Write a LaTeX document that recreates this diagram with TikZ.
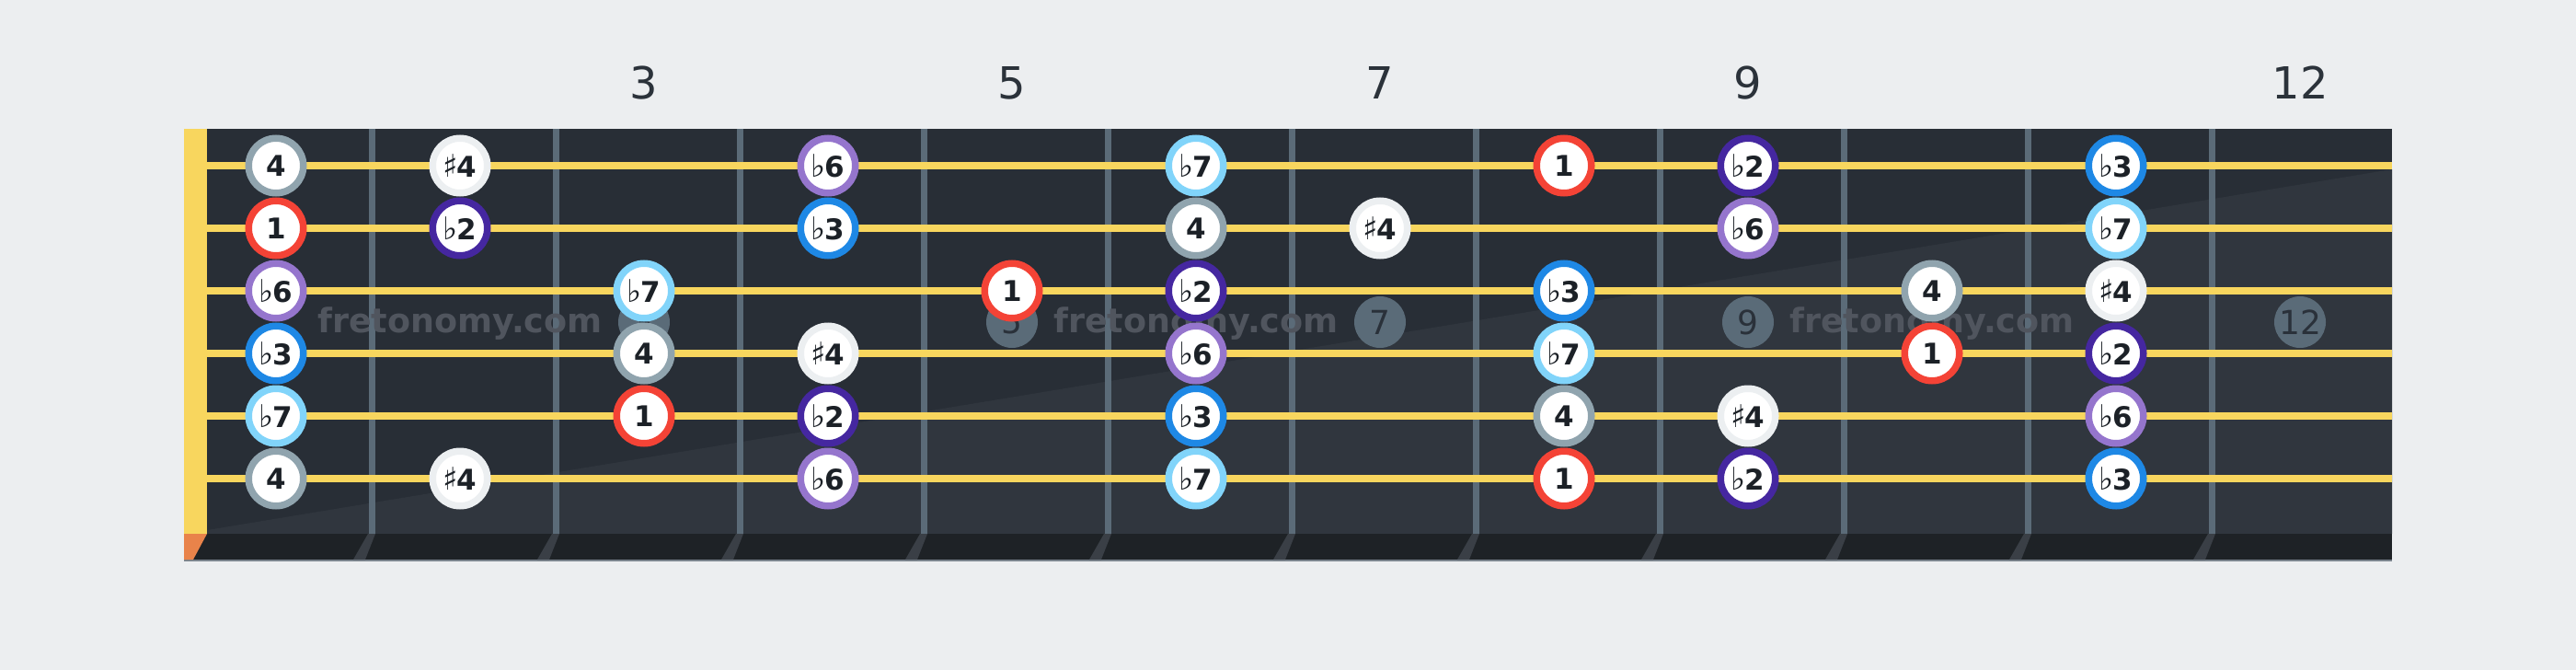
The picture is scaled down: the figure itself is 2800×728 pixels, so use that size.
\documentclass[tikz,border=0pt]{standalone}
\usepackage{fontspec}
\setmainfont{DejaVu Sans}
\definecolor{bgcol}{HTML}{ECEEF0}
\definecolor{boardtop}{HTML}{282E36}
\definecolor{boardlow}{HTML}{30363E}
\definecolor{stripcol}{HTML}{1E2226}
\definecolor{stripedge}{HTML}{7A838C}
\definecolor{cornercol}{HTML}{E9834A}
\definecolor{fretcol}{HTML}{5B6B78}
\definecolor{fretslant}{HTML}{3A3F46}
\definecolor{stringcol}{HTML}{F8D65E}
\definecolor{markerfill}{HTML}{5A6B78}
\definecolor{markertext}{HTML}{2A313A}
\definecolor{notetext}{HTML}{1C2127}
\definecolor{wmcol}{HTML}{50555E}
\definecolor{fretnumcol}{HTML}{2B323A}
\definecolor{cR}{HTML}{F44336}
\definecolor{cBtwo}{HTML}{4527A0}
\definecolor{cBthree}{HTML}{1E88E5}
\definecolor{cFour}{HTML}{90A4AE}
\definecolor{cSfour}{HTML}{ECEFF1}
\definecolor{cBsix}{HTML}{9575CD}
\definecolor{cBseven}{HTML}{81D4FA}
\newcommand{\flatsym}{{\mdseries\fontsize{17pt}{18pt}\selectfont ♭}\kern-0.5pt}
\newcommand{\sharpsym}{{\mdseries\fontsize{17pt}{18pt}\selectfont ♯}\kern-0.5pt}
\begin{document}
\begin{tikzpicture}[x=0.5pt,y=-0.5pt,
  note/.style={circle,fill=white,line width=3.75pt,minimum size=29.75pt,inner sep=0pt,text=notetext,font=\fontsize{15.5pt}{18pt}\selectfont\bfseries},
  nR/.style={note,draw=cR},
  nBtwo/.style={note,draw=cBtwo},
  nBthree/.style={note,draw=cBthree},
  nFour/.style={note,draw=cFour},
  nSfour/.style={note,draw=cSfour},
  nBsix/.style={note,draw=cBsix},
  nBseven/.style={note,draw=cBseven},
  fretmarker/.style={circle,fill=markerfill,minimum size=28pt,inner sep=0pt,text=markertext,font=\fontsize{18pt}{20pt}\selectfont},
  fretnum/.style={text=fretnumcol,font=\fontsize{24pt}{28pt}\selectfont},
  watermark/.style={text=wmcol,font=\fontsize{18.25pt}{20pt}\selectfont\bfseries,anchor=base}
]
\useasboundingbox (0,0) rectangle (2800,728);
\fill[bgcol] (0,0) rectangle (2800,728);
% board
\fill[boardtop] (200,140) rectangle (2600,580);
\fill[boardlow] (225,576) -- (2600,184) -- (2600,580) -- (225,580) -- cycle;
\fill[stripcol] (200,580) rectangle (2600,608);
\draw[stripedge,line width=1pt] (200,608.5) -- (2600,608.5);
\fill[cornercol] (200,580) -- (225,580) -- (210,608) -- (200,608) -- cycle;
% frets
\foreach \k in {0,...,10} {
  \pgfmathsetmacro\fx{404+200*\k}
  \fill[fretcol] (\fx-3.5,140) rectangle (\fx+3.5,580);
  \fill[fretslant] (\fx-4,580) -- (\fx+4,580) -- (\fx-7,608) -- (\fx-20,608) -- cycle;
}
% fret markers
\foreach \f in {3,5,7,9,12}
  \node[fretmarker] (mk\f) at ({300+200*(\f-1)},350) {\f};
% watermark
\foreach \i/\cx in {1/500,2/1300,3/2100}
  \node[watermark] (wm\i) at (\cx,361) {fretonomy.com};
% nut and strings
\fill[stringcol] (200,140) rectangle (225,580);
\foreach \s in {1,...,6}
  \draw[stringcol,line width=4pt] (225,{180+68*(\s-1)}) -- (2600,{180+68*(\s-1)});
% fret numbers
\foreach \f in {3,5,7,9,12}
  \node[fretnum] (fn\f) at ({300+200*(\f-1)},90) {\f};
% notes
\foreach \s/\f/\st/\t in {
  1/1/nFour/4, 1/2/nSfour/\sharpsym4, 1/4/nBsix/\flatsym6, 1/6/nBseven/\flatsym7, 1/8/nR/1, 1/9/nBtwo/\flatsym2, 1/11/nBthree/\flatsym3,
  2/1/nR/1, 2/2/nBtwo/\flatsym2, 2/4/nBthree/\flatsym3, 2/6/nFour/4, 2/7/nSfour/\sharpsym4, 2/9/nBsix/\flatsym6, 2/11/nBseven/\flatsym7,
  3/1/nBsix/\flatsym6, 3/3/nBseven/\flatsym7, 3/5/nR/1, 3/6/nBtwo/\flatsym2, 3/8/nBthree/\flatsym3, 3/10/nFour/4, 3/11/nSfour/\sharpsym4,
  4/1/nBthree/\flatsym3, 4/3/nFour/4, 4/4/nSfour/\sharpsym4, 4/6/nBsix/\flatsym6, 4/8/nBseven/\flatsym7, 4/10/nR/1, 4/11/nBtwo/\flatsym2,
  5/1/nBseven/\flatsym7, 5/3/nR/1, 5/4/nBtwo/\flatsym2, 5/6/nBthree/\flatsym3, 5/8/nFour/4, 5/9/nSfour/\sharpsym4, 5/11/nBsix/\flatsym6,
  6/1/nFour/4, 6/2/nSfour/\sharpsym4, 6/4/nBsix/\flatsym6, 6/6/nBseven/\flatsym7, 6/8/nR/1, 6/9/nBtwo/\flatsym2, 6/11/nBthree/\flatsym3}
  \node[\st] (s\s f\f) at ({300+200*(\f-1)},{180+68*(\s-1)}) {\t};
\end{tikzpicture}
\end{document}
